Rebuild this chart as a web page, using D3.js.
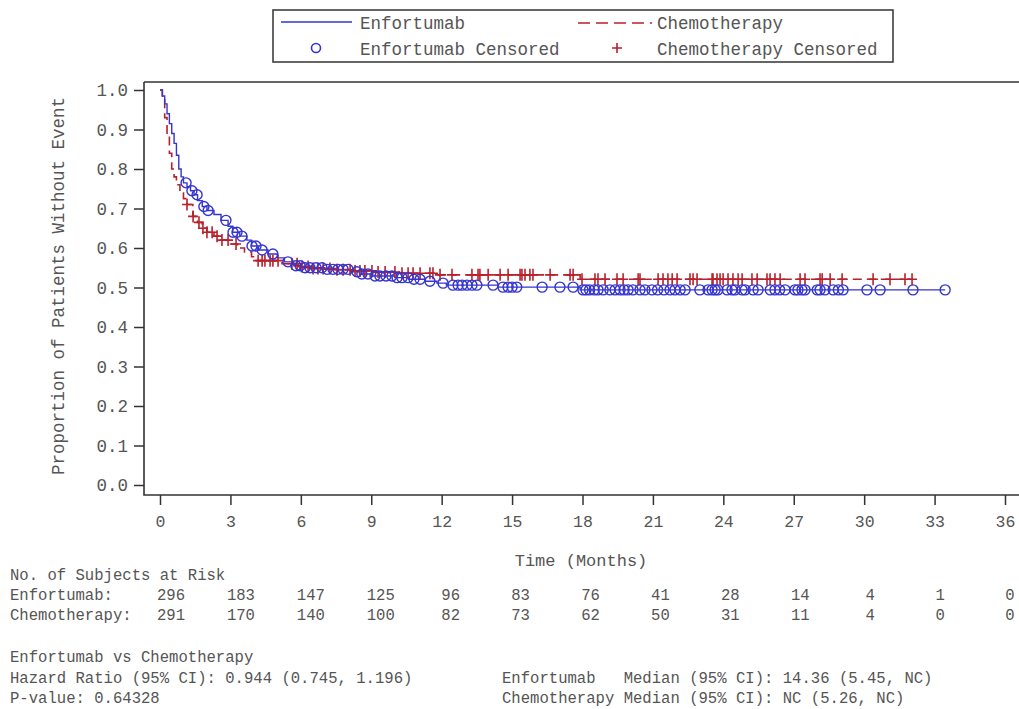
<!DOCTYPE html>
<html><head><meta charset="utf-8">
<script src="https://cdn.jsdelivr.net/npm/d3@7"></script>
<style>
body{margin:0;background:#fff;}
text{font-family:"Liberation Mono","Courier New",monospace;fill:#555;}
</style></head>
<body><svg id="c" width="1019" height="709"></svg>
<script>
// ---- data ----
const xTicks = [0,3,6,9,12,15,18,21,24,27,30,33,36];
const yTicks = [0,0.1,0.2,0.3,0.4,0.5,0.6,0.7,0.8,0.9,1.0];
const enfStepT = [0,0.1,0.2,0.3,0.4,0.5,0.6,0.7,0.8,0.9,1.0,1.15,1.3,1.45,1.6,1.8,2.0,2.3,2.6,2.9,3.1,3.4,3.7,3.9,4.2,4.6,5.0,5.3,5.7,6.0,7.0,8.1,8.5,9.0,10.0,10.6,11.3,11.8,12.2,14.4,17.9,33.45];
const enfStepS = [1.0,0.985,0.965,0.94,0.915,0.89,0.865,0.835,0.80,0.78,0.765,0.755,0.745,0.735,0.72,0.705,0.695,0.685,0.67,0.655,0.64,0.63,0.62,0.605,0.595,0.585,0.575,0.565,0.555,0.55,0.546,0.54,0.534,0.529,0.525,0.521,0.516,0.511,0.506,0.501,0.494,0.494];
const chemoStepT = [0,0.1,0.2,0.3,0.4,0.5,0.6,0.7,0.85,1.0,1.15,1.4,1.6,1.8,2.0,2.3,2.6,3.0,3.3,3.6,3.9,4.1,5.2,5.9,6.5,7.5,8.2,9.1,10.2,11.8,17.9,32.04];
const chemoStepS = [1.0,0.975,0.93,0.88,0.84,0.80,0.78,0.76,0.74,0.725,0.71,0.68,0.665,0.65,0.64,0.63,0.62,0.61,0.60,0.59,0.578,0.568,0.56,0.553,0.548,0.545,0.542,0.539,0.536,0.532,0.521,0.521];
const enfCensor = [1.11,1.36,1.58,1.87,2.05,2.81,3.11,3.28,3.49,3.92,4.09,4.35,4.81,5.45,5.79,5.97,6.18,6.39,6.65,6.9,7.12,7.37,7.58,7.8,8.01,8.39,8.6,8.86,9.16,9.37,9.63,9.88,10.1,10.31,10.57,10.82,11.08,11.5,12.06,12.48,12.7,12.87,13.08,13.29,13.5,14.19,14.61,14.83,15.0,15.2,16.28,17.04,17.6,18.02,18.15,18.3,18.5,18.66,18.88,19.17,19.39,19.6,19.77,19.94,20.15,20.45,20.66,20.96,21.2,21.47,21.73,21.94,22.16,22.37,23.0,23.35,23.52,23.65,23.77,24.16,24.37,24.5,24.8,24.93,25.27,25.48,26.0,26.2,26.4,26.63,27.05,27.18,27.35,27.48,28.0,28.12,28.33,28.68,28.9,29.1,30.12,30.68,32.08,33.45];
const chemoCensor = [1.15,1.41,1.66,1.83,2.0,2.22,2.43,2.64,2.9,3.24,4.18,4.35,4.47,4.69,4.81,5.03,5.62,5.84,6.05,6.31,6.52,6.73,6.95,7.24,7.54,7.8,8.1,8.31,8.52,8.73,9.03,9.29,9.59,10.01,10.31,10.57,10.78,11.08,11.5,11.63,11.93,12.44,13.29,13.55,13.63,13.98,14.49,14.83,15.34,15.42,15.55,15.76,15.89,16.62,17.47,17.6,17.98,18.53,18.66,18.96,19.47,19.73,20.37,20.45,21.22,21.43,21.64,21.82,22.03,22.58,22.71,22.88,23.52,23.56,23.73,23.86,23.99,24.2,24.41,24.63,24.8,25.22,25.44,25.86,25.99,26.2,26.42,27.27,27.48,28.12,28.21,28.55,29.06,30.38,31.1,31.74,32.04];
const riskTimes = [0,3,6,9,12,15,18,21,24,27,30,33,36];
const enfRisk = [296,183,147,125,96,83,76,41,28,14,4,1,0];
const chemoRisk = [291,170,140,100,82,73,62,50,31,11,4,0,0];
const legendLabels = ["Enfortumab","Chemotherapy","Enfortumab Censored","Chemotherapy Censored"];

// ---- drawing ----
const svg = d3.select("#c");
const blue = "#3434d0", red = "#b8202c", frame = "#333";
const x = d3.scaleLinear().domain([0,36]).range([160,1005]);
const y = d3.scaleLinear().domain([0,1]).range([485,90]);
const riskX = d3.scaleLinear().domain([0,36]).range([171,1010]);

// frame
svg.append("path").attr("d","M144,82H1019M144,82V495H1019").attr("fill","none").attr("stroke",frame).attr("stroke-width",1.6);

// y axis
const ya = svg.append("g").attr("transform","translate(144,0)")
  .call(d3.axisLeft(y).tickValues(yTicks).tickFormat(d3.format(".1f")).tickSize(10).tickPadding(6));
ya.select(".domain").remove();
ya.selectAll("line").attr("stroke",frame).attr("stroke-width",1.5);
ya.selectAll("text").style("font-size","17.5px").style("fill","#555");

// x axis
const xa = svg.append("g").attr("transform","translate(0,495)")
  .call(d3.axisBottom(x).tickValues(xTicks).tickFormat(d3.format("d")).tickSize(10).tickPadding(10));
xa.select(".domain").remove();
xa.selectAll("line").attr("stroke",frame).attr("stroke-width",1.5);
xa.selectAll("text").style("font-size","16.5px").style("fill","#555");

// axis titles
svg.append("text").attr("transform","translate(64,286) rotate(-90)").attr("text-anchor","middle")
  .style("font-size","17.5px").text("Proportion of Patients Without Event");
svg.append("text").attr("x",581).attr("y",566).attr("text-anchor","middle").style("font-size","17px").text("Time (Months)");

// curves
function stepData(T,S){return T.map((t,i)=>[t,S[i]]);}
function survAt(T,S,t){let s=S[0];for(let i=0;i<T.length;i++){if(T[i]<=t)s=S[i];}return s;}
const line = d3.line().x(d=>x(d[0])).y(d=>y(d[1])).curve(d3.curveStepAfter);
svg.append("path").datum(stepData(chemoStepT,chemoStepS)).attr("d",line).attr("fill","none")
  .attr("stroke",red).attr("stroke-width",1.6).attr("stroke-dasharray","9,5");
svg.append("path").datum(stepData(enfStepT,enfStepS)).attr("d",line).attr("fill","none")
  .attr("stroke",blue).attr("stroke-width",1.4);

// censor marks
svg.append("g").selectAll("path").data(chemoCensor).join("path")
  .attr("d",t=>{const cx=x(t),cy=y(survAt(chemoStepT,chemoStepS,t));return `M${cx-5},${cy}H${cx+5}M${cx},${cy-6}V${cy+6}`;})
  .attr("stroke",red).attr("stroke-width",1.6).attr("fill","none");
svg.append("g").selectAll("circle").data(enfCensor).join("circle")
  .attr("cx",t=>x(t)).attr("cy",t=>y(survAt(enfStepT,enfStepS,t))).attr("r",5)
  .attr("stroke",blue).attr("stroke-width",1.4).attr("fill","none");

// legend
const lg = svg.append("g");
lg.append("rect").attr("x",273).attr("y",10).attr("width",620).attr("height",52).attr("fill","#fff").attr("stroke",frame).attr("stroke-width",1.5);
lg.append("line").attr("x1",281).attr("x2",352).attr("y1",22).attr("y2",22).attr("stroke",blue).attr("stroke-width",1.4);
lg.append("line").attr("x1",578).attr("x2",652).attr("y1",23).attr("y2",23).attr("stroke",red).attr("stroke-width",1.6).attr("stroke-dasharray","12,6");
lg.append("circle").attr("cx",316).attr("cy",48).attr("r",4.5).attr("fill","none").attr("stroke",blue).attr("stroke-width",1.6);
lg.append("path").attr("d","M612,48H622M617,43V53").attr("stroke",red).attr("stroke-width",1.6);
const lpos = [[360,29],[657,29],[360,55],[657,55]];
legendLabels.forEach((l,i)=>lg.append("text").attr("x",lpos[i][0]).attr("y",lpos[i][1]).style("font-size","17.5px").text(l));

// risk table
const rs = "15.6px";
svg.append("text").attr("x",10).attr("y",580).style("font-size",rs).text("No. of Subjects at Risk");
svg.append("text").attr("x",10).attr("y",600).style("font-size",rs).text("Enfortumab:");
svg.append("text").attr("x",10).attr("y",620).style("font-size",rs).text("Chemotherapy:");
svg.append("g").selectAll("text").data(enfRisk).join("text")
  .attr("x",(d,i)=>riskX(riskTimes[i])).attr("y",600).attr("text-anchor","middle").style("font-size",rs).text(d=>d);
svg.append("g").selectAll("text").data(chemoRisk).join("text")
  .attr("x",(d,i)=>riskX(riskTimes[i])).attr("y",620).attr("text-anchor","middle").style("font-size",rs).text(d=>d);

// stats
const stats = [[10,662,"Enfortumab vs Chemotherapy"],[10,683,"Hazard Ratio (95% CI): 0.944 (0.745, 1.196)"],[10,703,"P-value: 0.64328"],
  [502,683,"Enfortumab   Median (95% CI): 14.36 (5.45, NC)"],[502,703,"Chemotherapy Median (95% CI): NC (5.26, NC)"]];
stats.forEach(s=>svg.append("text").attr("x",s[0]).attr("y",s[1]).style("font-size",rs).style("white-space","pre").attr("xml:space","preserve").text(s[2]));
</script></body></html>
